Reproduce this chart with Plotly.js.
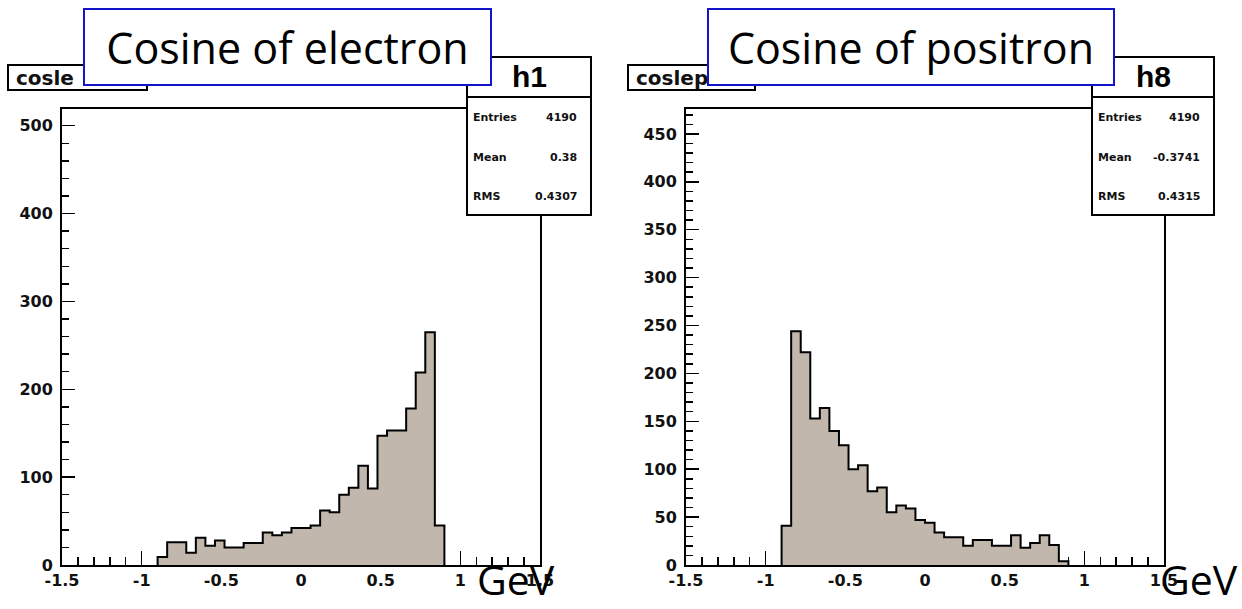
<!DOCTYPE html>
<html>
<head>
<meta charset="utf-8">
<script src="https://cdn.plot.ly/plotly-3.0.1.min.js"></script>
<style>html,body{margin:0;padding:0;background:#fff;}#chart{width:1242px;height:609px;}</style>
</head>
<body>
<div id="chart"></div>
<script>
// ---------- data ----------
const binLow = -0.9;
const binWidth = 0.06;
const electronCounts = [9,26,26,14,31,22,28,20,20,25,25,37,34,37,42,42,45,62,60,80,88,113,87,147,153,153,178,219,265,45];
const positronCounts = [41,244,222,153,164,140,125,100,104,77,81,55,62,59,47,44,34,29,29,20,26,26,20,20,31,18,23,31,21,4];
const xTickVals = [-1.5,-1,-0.5,0,0.5,1,1.5];
const xTickText = ['-1.5','-1','-0.5','0','0.5','1','1.5'];
const yTickValsL = [0,100,200,300,400,500];
const yTickValsR = [0,50,100,150,200,250,300,350,400,450];
const titles = ['Cosine of electron','Cosine of positron'];
const histNames = ['h1','h8'];
const histTitles = ['cosle','coslep'];
const statLabels = ['Entries','Mean','RMS'];
const statsL = ['4190','0.38','0.4307'];
const statsR = ['4190','-0.3741','0.4315'];
const unitLabel = 'GeV';

// ---------- helpers ----------
const W = 1242, H = 609;
const px = x => x / W;
const py = y => 1 - y / H;

function stepTrace(counts, xa, ya) {
  const xs = [], ys = [];
  const edge = k => +(binLow + k * binWidth).toFixed(4);
  xs.push(edge(0)); ys.push(0);
  counts.forEach((c, k) => { xs.push(edge(k)); ys.push(c); });
  xs.push(edge(counts.length)); ys.push(counts[counts.length - 1]);
  xs.push(edge(counts.length)); ys.push(0);
  return {
    type: 'scatter', mode: 'lines', x: xs, y: ys, xaxis: xa, yaxis: ya,
    line: {shape: 'hv', color: '#000', width: 2},
    fill: 'tozeroy', fillcolor: '#c1b7ac', hoverinfo: 'skip'
  };
}

const tickFont = {family: 'DejaVu Sans', size: 16, color: '#111', weight: 'bold'};
function xAxis(dom, anchor) {
  return {
    domain: dom, anchor: anchor, range: [-1.5, 1.5], tickmode: 'array',
    tickvals: xTickVals, ticktext: xTickText,
    showgrid: false, zeroline: false, showline: true, mirror: true,
    linecolor: '#000', linewidth: 2, ticks: 'inside', ticklen: 14, tickwidth: 1.5,
    tickcolor: '#000', tickfont: tickFont, layer: 'below traces', ticklabelstandoff: 0,
    minor: {tickmode: 'linear', tick0: -1.5, dtick: 0.1, ticks: 'inside', ticklen: 8, tickwidth: 1.5, tickcolor: '#000', showgrid: false},
    fixedrange: true
  };
}
function yAxis(dom, anchor, rng, vals, minorStep) {
  return {
    domain: dom, anchor: anchor, range: rng, tickmode: 'array', tickvals: vals,
    showgrid: false, zeroline: false, showline: true, mirror: true,
    linecolor: '#000', linewidth: 2, ticks: 'inside', ticklen: 13, tickwidth: 1.5,
    tickcolor: '#000', tickfont: tickFont, layer: 'below traces', ticklabelstandoff: 4,
    minor: {tickmode: 'linear', tick0: 0, dtick: minorStep, ticks: 'inside', ticklen: 7, tickwidth: 1.5, tickcolor: '#000', showgrid: false},
    fixedrange: true
  };
}

const yDom = [py(565), py(109)];
const panels = [
  {statX0: 467, statX1: 591, titleL: 83, titleR: 492, nameBox: [8, 147], stats: statsL, unitX: 475},
  {statX0: 1092, statX1: 1214, titleL: 707, titleR: 1115, nameBox: [628, 755], stats: statsR, unitX: 1158}
];

const shapes = [];
const annotations = [];
panels.forEach((p, i) => {
  shapes.push({type: 'rect', xref: 'paper', yref: 'paper', layer: 'above',
    x0: px(p.statX0), x1: px(p.statX1), y0: py(57), y1: py(97),
    line: {color: '#000', width: 2}, fillcolor: '#fff'});
  shapes.push({type: 'rect', xref: 'paper', yref: 'paper', layer: 'above',
    x0: px(p.statX0), x1: px(p.statX1), y0: py(97), y1: py(215),
    line: {color: '#000', width: 2}, fillcolor: '#fff'});
  shapes.push({type: 'rect', xref: 'paper', yref: 'paper', layer: 'above',
    x0: px(p.nameBox[0]), x1: px(p.nameBox[1]), y0: py(65), y1: py(90),
    line: {color: '#000', width: 2}, fillcolor: '#fff'});

  annotations.push({xref: 'paper', yref: 'paper', x: px(p.nameBox[0] + 6), y: py(77.5),
    xanchor: 'left', yanchor: 'middle', showarrow: false, text: histTitles[i],
    font: {family: 'DejaVu Sans', size: 20, color: '#111', weight: 'bold'}});
  annotations.push({xref: 'paper', yref: 'paper', x: px((p.statX0 + p.statX1) / 2), y: py(77),
    xanchor: 'center', yanchor: 'middle', showarrow: false, text: histNames[i],
    font: {family: 'Liberation Sans', size: 30, color: '#000', weight: 'bold'}});
  statLabels.forEach((lab, j) => {
    const yy = 118 + j * 39.5;
    annotations.push({xref: 'paper', yref: 'paper', x: px(p.statX0 + 4), y: py(yy),
      xanchor: 'left', yanchor: 'middle', showarrow: false, text: lab,
      font: {family: 'DejaVu Sans', size: 11, color: '#111', weight: 'bold'}});
    annotations.push({xref: 'paper', yref: 'paper', x: px(p.statX1 - 12), y: py(yy),
      xanchor: 'right', yanchor: 'middle', showarrow: false, text: p.stats[j],
      font: {family: 'DejaVu Sans', size: 11, color: '#111', weight: 'bold'}});
  });
  annotations.push({xref: 'paper', yref: 'paper', x: px((p.titleL + p.titleR) / 2), y: py(47.5),
    xanchor: 'center', yanchor: 'middle', showarrow: false, text: titles[i],
    width: p.titleR - p.titleL - 4, height: 74, align: 'center', valign: 'middle',
    bgcolor: '#fff', bordercolor: '#1414c8', borderwidth: 2, borderpad: 0,
    font: {family: 'Open Sans', size: 43, color: '#000'}});
  annotations.push({xref: 'paper', yref: 'paper', x: px(p.unitX), y: 0,
    xanchor: 'left', yanchor: 'bottom', showarrow: false, text: unitLabel,
    font: {family: 'Open Sans', size: 41, color: '#000'}});
});

const data = [stepTrace(electronCounts, 'x', 'y'), stepTrace(positronCounts, 'x2', 'y2')];
const layout = {
  width: W, height: H, margin: {l: 0, r: 0, t: 0, b: 0},
  paper_bgcolor: '#fff', plot_bgcolor: '#fff', showlegend: false,
  xaxis: xAxis([px(62), px(540)], 'y'),
  yaxis: yAxis(yDom, 'x', [0, 519], yTickValsL, 20),
  xaxis2: xAxis([px(686), px(1164)], 'y2'),
  yaxis2: yAxis(yDom, 'x2', [0, 476], yTickValsR, 10),
  shapes: shapes, annotations: annotations
};
Plotly.newPlot('chart', data, layout, {staticPlot: true, displayModeBar: false});
</script>
</body>
</html>
